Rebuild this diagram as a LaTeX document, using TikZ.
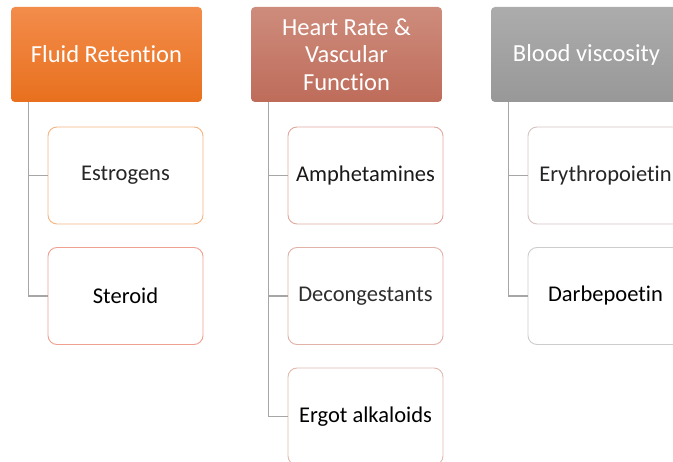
\documentclass[tikz,border=0pt]{standalone}
\usepackage{fontspec}
\setmainfont[Ligatures=NoCommon]{Carlito}
\begin{document}
\begin{tikzpicture}[x=1pt,y=-1pt,
  headbox/.style={rounded corners=4pt, minimum width=191pt, minimum height=95pt,
    inner sep=0pt, text=white, align=center, font=\fontsize{24.5}{27.5}\selectfont},
  itembox/.style={rounded corners=9pt, fill=white, line width=0.9pt, minimum width=155pt,
    minimum height=97pt, inner sep=0pt, align=center, font=\fontsize{22.5}{26}\selectfont},
  link/.style={draw=black!35, line width=1.3pt}]
\useasboundingbox (0,0) rectangle (673,462);
\clip (0,0) rectangle (673,462);

% column headers
\node[headbox, top color={rgb,255:red,243;green,140;blue,75}, bottom color={rgb,255:red,232;green,112;blue,30}]
  (fluid) at (106.5,54.5) {Fluid Retention};
\node[headbox, top color={rgb,255:red,206;green,140;blue,124}, bottom color={rgb,255:red,190;green,108;blue,90}]
  (heart) at (346.5,54.5) {Heart Rate \&\\Vascular\\Function};
\node[headbox, top color={rgb,255:red,172;green,172;blue,172}, bottom color={rgb,255:red,152;green,152;blue,152}]
  (blood) at (586.5,54.5) {Blood viscosity};

% first column
\node[itembox, draw={rgb,255:red,245;green,180;blue,130}, text=black!85] (estro) at (125.5,175.5) {Estrogens};
\node[itembox, draw={rgb,255:red,240;green,160;blue,145}, text=black] (ster) at (125.5,296) {Steroid};

% second column
\node[itembox, draw={rgb,255:red,225;green,168;blue,158}, text=black!90] (amph) at (365.5,175.5) {Amphetamines};
\node[itembox, draw={rgb,255:red,225;green,178;blue,168}, text=black!82] (decon) at (365.5,296) {Decongestants};
\node[itembox, draw={rgb,255:red,225;green,185;blue,175}, text=black] (ergot) at (365.5,416.5) {Ergot alkaloids};

% third column
\node[itembox, draw={rgb,255:red,215;green,195;blue,195}, text=black!85] (eryth) at (605.5,175.5) {Erythropoietin};
\node[itembox, draw={rgb,255:red,205;green,205;blue,205}, text=black] (darb) at (605.5,296) {Darbepoetin};

% connectors from each header down to its items
\coordinate (fl) at ([xshift=18pt]fluid.south west);
\coordinate (hl) at ([xshift=18pt]heart.south west);
\coordinate (bl) at ([xshift=18pt]blood.south west);
\draw[link] (fl) |- (estro.west);
\draw[link] (fl) |- (ster.west);
\draw[link] (hl) |- (amph.west);
\draw[link] (hl) |- (decon.west);
\draw[link] (hl) |- (ergot.west);
\draw[link] (bl) |- (eryth.west);
\draw[link] (bl) |- (darb.west);
\end{tikzpicture}
\end{document}
